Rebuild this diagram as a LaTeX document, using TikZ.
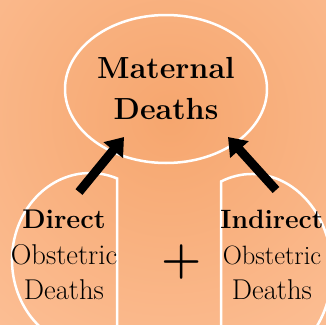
\documentclass[tikz,border=0pt]{standalone}
\usepackage{fix-cm}
\usepackage{graphicx}
\usepackage{tikz}
\usetikzlibrary{shapes.geometric, positioning, calc, arrows.meta}
\definecolor{glowin}{RGB}{246,166,110}
\definecolor{glowout}{RGB}{255,204,170}
\newcommand{\wider}[1]{\scalebox{1.08}{#1}}

\begin{document}
\begin{tikzpicture}[x=1pt,y=-1pt,
        outline/.style={draw=white, line width=2.5pt},
        bigarrow/.style={line width=9pt, -{Triangle[length=17pt,width=24pt]}},
        lowtext/.style={align=center, font=\fontsize{26.5}{35.5}\selectfont, inner sep=0pt}]
        %sfondo
            \useasboundingbox (0,0) rectangle (326,324);
            \clip (0,0) rectangle (326,324);
            \shade[inner color=glowin, outer color=glowout] (170,118) circle (430);
        %ellisse in alto
            \node[ellipse, outline, minimum width=202pt, minimum height=148pt, inner sep=0pt,
                  align=center, font=\fontsize{30.5}{41}\selectfont\bfseries] (maternal) at (166,89)
                  {Maternal\\Deaths};
        %forme in basso
            \draw[outline] (117,178.4) arc[start angle=-69.75, end angle=-290.25, x radius=78, y radius=87] -- cycle;
            \draw[outline] (221,181.5) arc[start angle=-112.8, end angle=112.8, x radius=80, y radius=96] -- cycle;
        %testi
            \node[lowtext] (direct) at (64,255) {\scalebox{1.02}{\bfseries Direct}\\\wider{Obstetric}\\\wider{Deaths}};
            \node[lowtext] (indirect) at (272,255) {{\bfseries Indirect}\\Obstetric\\\wider{Deaths}};
            \node[font=\fontsize{46}{46}\selectfont\bfseries, inner sep=0pt] (plus) at (182,262) {+};
        %frecce
            \coordinate (dtail) at (79,192);
            \coordinate (dtip) at (124,137);
            \coordinate (itail) at (276,190);
            \coordinate (itip) at (228,137);
            \draw[bigarrow] (dtail) -- (dtip);
            \draw[bigarrow] (itail) -- (itip);
    \end{tikzpicture}
\end{document}
